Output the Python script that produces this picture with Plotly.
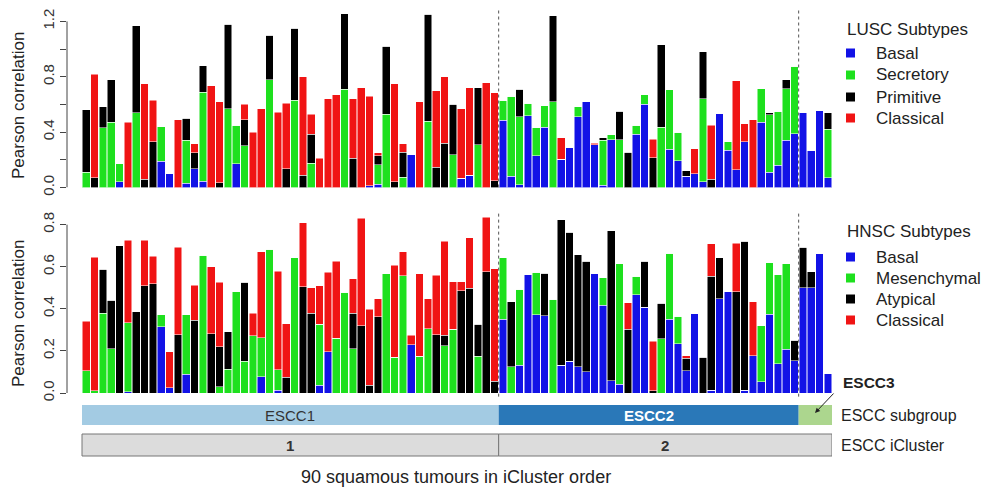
import plotly.graph_objects as go

W, H = 984, 491
FONT = "Liberation Sans, Arial, sans-serif"

n_bars = 90
tumour_idx = list(range(n_bars))

# ---------------- LUSC subtype correlations (stack: Basal, Secretory, Primitive, Classical)
lusc_basal = [0, 0, 0, 0, 0.04, 0, 0, 0, 0, 0.19,
              0.10, 0, 0.03, 0.135, 0.045, 0, 0, 0, 0.17, 0,
              0, 0, 0, 0, 0, 0, 0, 0, 0, 0,
              0, 0, 0, 0, 0.012, 0.025, 0, 0, 0, 0.235,
              0, 0, 0, 0, 0, 0.067, 0.09, 0, 0, 0,
              0.485, 0.08, 0.02, 0.52, 0.23, 0.435, 0, 0.205, 0.29, 0.51,
              0.62, 0.31, 0.015, 0.345, 0, 0, 0.385, 0.60, 0, 0,
              0.275, 0.195, 0.08, 0.10, 0.04, 0, 0.535, 0.27, 0.13, 0.33,
              0, 0.47, 0.11, 0.16, 0.34, 0.39, 0.545, 0.27, 0.555, 0.07]
lusc_secretory = [0.11, 0, 0.43, 0.47, 0.13, 0, 0.54, 0, 0, 0.25,
                  0, 0, 0.31, 0, 0.645, 0, 0, 0.57, 0.28, 0.30,
                  0, 0, 0.78, 0, 0, 0.63, 0, 0.175, 0, 0,
                  0, 0.71, 0, 0, 0, 0.14, 0.53, 0, 0.075, 0,
                  0, 0.48, 0, 0, 0.235, 0, 0, 0.31, 0, 0,
                  0.145, 0.58, 0.49, 0.09, 0.20, 0.155, 0.62, 0, 0, 0.075,
                  0, 0, 0.325, 0.035, 0.345, 0, 0.065, 0.07, 0, 0.435,
                  0.43, 0.205, 0, 0, 0.60, 0, 0, 0.06, 0, 0,
                  0, 0.245, 0.415, 0.39, 0.375, 0.485, 0, 0, 0, 0.35]
lusc_primitive = [0.45, 0.07, 0.155, 0.31, 0, 0, 0.63, 0.06, 0.33, 0,
                  0, 0, 0.16, 0.115, 0.19, 0, 0.035, 0.61, 0, 0.19,
                  0, 0, 0.32, 0, 0.135, 0.52, 0.087, 0.21, 0, 0,
                  0, 0.545, 0.21, 0, 0, 0.065, 0.49, 0.04, 0.18, 0,
                  0, 0.77, 0.145, 0.32, 0.365, 0, 0, 0.41, 0, 0.05,
                  0, 0, 0.20, 0, 0, 0, 0.62, 0, 0, 0,
                  0, 0, 0.02, 0, 0.205, 0.255, 0, 0, 0.215, 0.595,
                  0, 0, 0.04, 0, 0.34, 0.058, 0, 0, 0, 0,
                  0, 0, 0.015, 0, 0.065, 0, 0, 0, 0, 0.12]
lusc_classical = [0, 0.75, 0, 0, 0, 0.47, 0, 0.69, 0.30, 0,
                  0, 0.49, 0, 0.065, 0, 0.735, 0.585, 0, 0, 0.11,
                  0.40, 0.57, 0, 0.545, 0.475, 0, 0.713, 0.145, 0.21, 0.64,
                  0.67, 0, 0.43, 0.72, 0.648, 0.02, 0, 0.71, 0.06, 0,
                  0.62, 0, 0.555, 0.48, 0, 0.503, 0.63, 0, 0.757, 0.635,
                  0, 0, 0, 0, 0, 0, 0, 0.155, 0, 0,
                  0, 0.01, 0, 0, 0, 0, 0, 0, 0.135, 0,
                  0, 0, 0, 0.18, 0, 0.392, 0, 0, 0.64, 0.13,
                  0.49, 0, 0, 0, 0, 0, 0, 0, 0, 0]

# ---------------- HNSC subtype correlations (stack: Basal, Mesenchymal, Atypical, Classical)
hnsc_basal = [0, 0, 0, 0, 0, 0.006, 0, 0, 0, 0.314,
              0.026, 0, 0.09, 0, 0, 0, 0, 0, 0, 0,
              0, 0.077, 0, 0.013, 0, 0, 0, 0, 0.037, 0.197,
              0, 0, 0, 0, 0, 0, 0, 0, 0, 0.23,
              0, 0, 0, 0, 0, 0, 0, 0, 0, 0,
              0.35, 0, 0.131, 0.5625, 0.373, 0.367, 0, 0.131, 0.15, 0.125,
              0.10, 0.57, 0.417, 0.058, 0.042, 0, 0.468, 0.407, 0, 0,
              0.351, 0.234, 0.106, 0.378, 0, 0.013, 0.447, 0.482, 0, 0.013,
              0.178, 0.053, 0.375, 0.138, 0.208, 0.154, 0.50, 0.50, 0.663, 0.095]
hnsc_mesenchymal = [0.106, 0.01, 0.378, 0.21, 0, 0.327, 0, 0, 0, 0.059,
                    0, 0, 0.283, 0, 0.654, 0, 0.03, 0.112, 0.48, 0.15,
                    0.272, 0.186, 0.683, 0.097, 0, 0.643, 0, 0, 0.29, 0,
                    0.26, 0.478, 0.21, 0, 0, 0, 0.567, 0.17, 0.558, 0,
                    0.175, 0.306, 0, 0.224, 0.304, 0, 0, 0.175, 0, 0,
                    0.293, 0.125, 0.363, 0, 0.201, 0, 0.445, 0, 0, 0,
                    0, 0, 0.131, 0, 0.573, 0, 0.086, 0, 0, 0.258,
                    0.312, 0.131, 0, 0, 0, 0, 0, 0, 0, 0,
                    0, 0.266, 0.244, 0.423, 0.406, 0, 0, 0, 0, 0]
hnsc_atypical = [0, 0, 0.209, 0.23, 0.70, 0, 0.386, 0.51, 0.52, 0,
                 0, 0.277, 0, 0.346, 0, 0.282, 0.19, 0.178, 0, 0.376,
                 0, 0, 0, 0, 0.074, 0, 0.506, 0.378, 0, 0,
                 0, 0, 0.168, 0.32, 0.038, 0.362, 0, 0, 0, 0,
                 0, 0, 0.276, 0.05, 0, 0.486, 0.498, 0.152, 0.577, 0.056,
                 0, 0.308, 0, 0, 0, 0.203, 0, 0.693, 0.613, 0.532,
                 0.527, 0, 0, 0.714, 0, 0.303, 0, 0.22, 0.01, 0.168,
                 0, 0, 0.059, 0, 0.17, 0.541, 0.196, 0, 0.48, 0.707,
                 0, 0, 0, 0, 0, 0.096, 0.192, 0.075, 0, 0]
hnsc_classical = [0.234, 0.636, 0, 0, 0, 0.393, 0, 0.216, 0.13, 0,
                  0.171, 0.415, 0, 0.167, 0, 0.318, 0.306, 0, 0, 0,
                  0.108, 0.407, 0, 0.468, 0.256, 0, 0.304, 0.122, 0.183, 0.377,
                  0.367, 0, 0.165, 0.51, 0.359, 0.087, 0, 0.437, 0.113, 0.044,
                  0.391, 0.141, 0.284, 0.446, 0.225, 0.043, 0.239, 0, 0.258, 0.535,
                  0, 0, 0, 0, 0, 0, 0, 0, 0, 0,
                  0, 0, 0, 0, 0, 0.125, 0, 0, 0.235, 0,
                  0, 0, 0.011, 0, 0, 0.154, 0, 0, 0.231, 0,
                  0.256, 0, 0, 0, 0, 0, 0, 0, 0, 0]

lusc_names = ["Basal", "Secretory", "Primitive", "Classical"]
hnsc_names = ["Basal", "Mesenchymal", "Atypical", "Classical"]
seg_colors = ["#1212e6", "#1ee01e", "#000000", "#f01414"]

# ESCC groups: (label, first bar, last bar)
subgroups = [("ESCC1", 0, 49), ("ESCC2", 50, 85), ("ESCC3", 86, 89)]
subgroup_colors = ["#a3cbe3", "#2a78b8", "#acd68e"]
subgroup_text = ["ESCC1", "<b>ESCC2</b>", ""]
subgroup_text_colors = ["#333333", "#ffffff", "#333333"]
iclusters = [("1", 0, 49), ("2", 50, 89)]
boundaries = [49.5, 85.5]

# ---------------- geometry helpers (pixel -> paper)
def px(x):
    return x / W

def py(y):
    return 1 - y / H

x_dom = [px(67), px(832)]
x_rng = [-2.3, 89.5]

fig = go.Figure()

for vals, name, col in zip([lusc_basal, lusc_secretory, lusc_primitive, lusc_classical], lusc_names, seg_colors):
    fig.add_trace(go.Bar(x=tumour_idx, y=vals, name=name, marker=dict(color=col, line=dict(color="white", width=0.5)),
                         xaxis="x", yaxis="y", showlegend=False))
for vals, name, col in zip([hnsc_basal, hnsc_mesenchymal, hnsc_atypical, hnsc_classical], hnsc_names, seg_colors):
    fig.add_trace(go.Bar(x=tumour_idx, y=vals, name=name, marker=dict(color=col, line=dict(color="white", width=0.5)),
                         xaxis="x2", yaxis="y2", showlegend=False))

axis_common = dict(showgrid=False, zeroline=False, showline=False, ticks="outside", ticklen=6,
                   tickcolor="#444", tickwidth=1, tickangle=-90, automargin=False,
                   tickfont=dict(family=FONT, size=15, color="#333"))

fig.update_layout(
    width=W, height=H,
    margin=dict(l=0, r=0, t=0, b=0, autoexpand=False),
    paper_bgcolor="white", plot_bgcolor="white",
    barmode="stack", bargap=0.08,
    xaxis=dict(domain=x_dom, range=x_rng, visible=False, anchor="y"),
    xaxis2=dict(domain=x_dom, range=x_rng, visible=False, anchor="y2"),
    yaxis=dict(domain=[py(187.5), py(12)], range=[0, 1.268], anchor="x",
               tickvals=[0, 0.2, 0.4, 0.6, 0.8, 1.0, 1.2],
               ticktext=["0.0", "", "0.4", "", "0.8", "", "1.2"], **axis_common),
    yaxis2=dict(domain=[py(393), py(212)], range=[0, 0.86], anchor="x2",
                tickvals=[0, 0.2, 0.4, 0.6, 0.8],
                ticktext=["0.0", "0.2", "0.4", "0.6", "0.8"], **axis_common),
    font=dict(family=FONT, color="#222"),
)

shapes = []
annotations = []

# axis lines (R style, only spanning the tick range)
shapes.append(dict(type="line", xref="paper", yref="y", x0=x_dom[0], x1=x_dom[0], y0=0, y1=1.2,
                   line=dict(color="#444", width=1)))
shapes.append(dict(type="line", xref="paper", yref="y2", x0=x_dom[0], x1=x_dom[0], y0=0, y1=0.8,
                   line=dict(color="#444", width=1)))

# dashed group boundaries
for b in boundaries:
    shapes.append(dict(type="line", xref="x", yref="y domain", x0=b, x1=b, y0=0, y1=1.01,
                       line=dict(color="#555", width=1, dash="3px,3px")))
    shapes.append(dict(type="line", xref="x2", yref="y2 domain", x0=b, x1=b, y0=-0.02, y1=1.0,
                       line=dict(color="#555", width=1, dash="3px,3px")))

# y axis titles
for yc in [106, 314]:
    annotations.append(dict(text="Pearson correlation", x=px(18), y=py(yc), xref="paper", yref="paper",
                            textangle=-90, showarrow=False, font=dict(family=FONT, size=17, color="#222"),
                            xanchor="center", yanchor="middle"))

# ESCC subgroup bar
for (lab, a, b), col, txt, tcol in zip(subgroups, subgroup_colors, subgroup_text, subgroup_text_colors):
    shapes.append(dict(type="rect", xref="x2", yref="paper", x0=a - 0.5, x1=b + 0.5, y0=py(425), y1=py(405),
                       fillcolor=col, line=dict(width=0)))
    if txt:
        annotations.append(dict(text=txt, x=(a + b) / 2, y=py(415), xref="x2", yref="paper", showarrow=False,
                                font=dict(family=FONT, size=15, color=tcol), xanchor="center", yanchor="middle"))

# iCluster bar
for lab, a, b in iclusters:
    shapes.append(dict(type="rect", xref="x2", yref="paper", x0=a - 0.5, x1=b + 0.5, y0=py(456), y1=py(434),
                       fillcolor="#dcdcdc", line=dict(width=1, color="#777")))
    annotations.append(dict(text="<b>" + lab + "</b>", x=(a + b) / 2, y=py(445), xref="x2", yref="paper",
                            showarrow=False, font=dict(family=FONT, size=15, color="#333"),
                            xanchor="center", yanchor="middle"))

# row labels
annotations.append(dict(text="ESCC subgroup", x=px(839), y=py(415), xref="paper", yref="paper", showarrow=False,
                        font=dict(family=FONT, size=16, color="#222"), xanchor="left", yanchor="middle"))
annotations.append(dict(text="ESCC iCluster", x=px(839), y=py(445), xref="paper", yref="paper", showarrow=False,
                        font=dict(family=FONT, size=16, color="#222"), xanchor="left", yanchor="middle"))
annotations.append(dict(text="<b>ESCC3</b>", x=px(841), y=py(382), xref="paper", yref="paper", showarrow=False,
                        font=dict(family=FONT, size=15.5, color="#222"), xanchor="left", yanchor="middle"))
annotations.append(dict(text="", x=px(815), y=py(413), xref="paper", yref="paper", showarrow=True,
                        ax=20, ay=-21, arrowhead=2, arrowsize=1, arrowwidth=1, arrowcolor="#222"))

# bottom title
annotations.append(dict(text="90 squamous tumours in iCluster order", x=px(456), y=py(477), xref="paper",
                        yref="paper", showarrow=False, font=dict(family=FONT, size=18, color="#222"),
                        xanchor="center", yanchor="middle"))

# legends (drawn manually)
def add_legend(title, names, y_title, y_items):
    annotations.append(dict(text=title, x=px(845), y=py(y_title), xref="paper", yref="paper", showarrow=False,
                            font=dict(family=FONT, size=17, color="#222"), xanchor="left", yanchor="middle"))
    for nm, col, yy in zip(names, seg_colors, y_items):
        shapes.append(dict(type="rect", xref="paper", yref="paper", x0=px(846), x1=px(855),
                           y0=py(yy + 4.5), y1=py(yy - 4.5), fillcolor=col, line=dict(width=0)))
        annotations.append(dict(text=nm, x=px(874), y=py(yy), xref="paper", yref="paper", showarrow=False,
                                font=dict(family=FONT, size=17, color="#222"), xanchor="left", yanchor="middle"))

add_legend("LUSC Subtypes", lusc_names, 29, [53, 75, 97, 118])
add_legend("HNSC Subtypes", hnsc_names, 232, [257, 278, 299, 320])

fig.update_layout(shapes=shapes, annotations=annotations)
fig.write_html("out.html")
